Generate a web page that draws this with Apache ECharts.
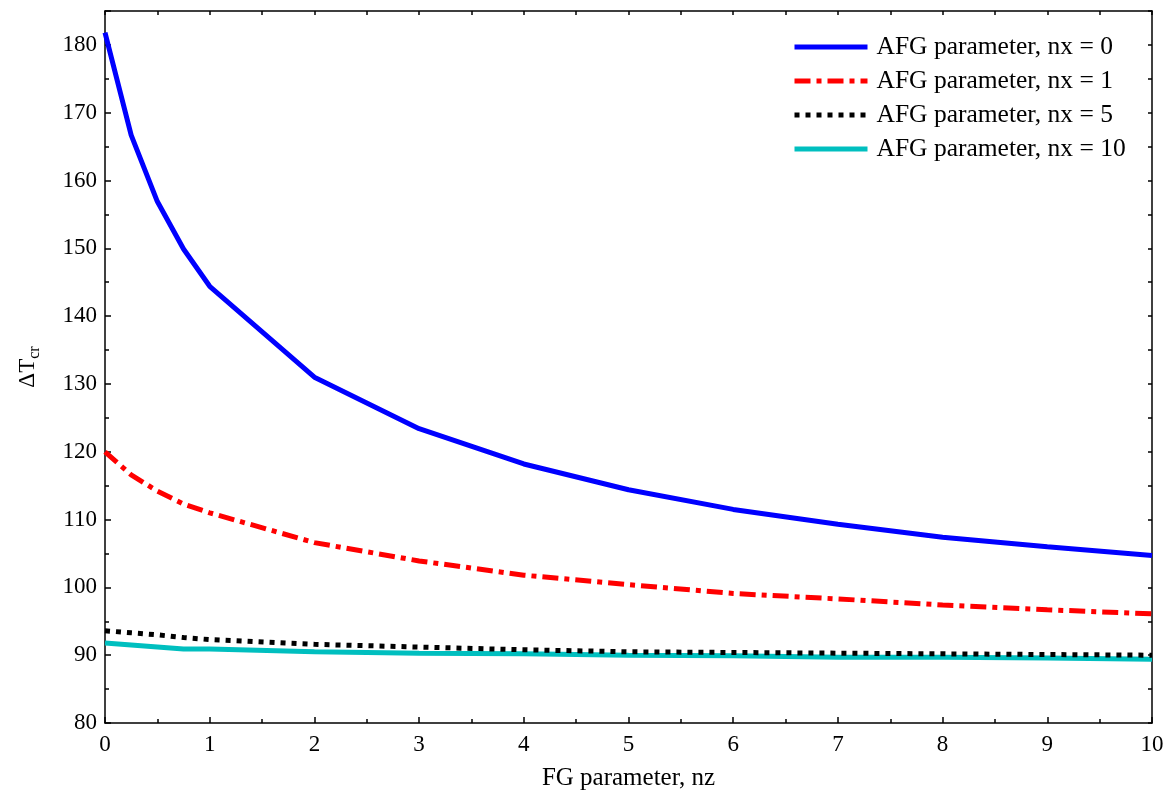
<!DOCTYPE html>
<html>
<head>
<meta charset="utf-8">
<script src="https://cdn.jsdelivr.net/npm/echarts@6/dist/echarts.min.js"></script>
<style>
  html, body { margin: 0; padding: 0; background: #fff; }
  #chart { width: 1172px; height: 796px; }
</style>
</head>
<body>
<div id="chart"></div>
<script>
// FG parameter nz sample points
const nz = [0, 0.25, 0.5, 0.75, 1, 2, 3, 4, 5, 6, 7, 8, 9, 10];

// Critical temperature difference for each AFG parameter nx
const dT_nx0  = [181.8, 166.7, 156.9, 149.9, 144.4, 131.0, 123.4, 118.2, 114.4, 111.5, 109.3, 107.4, 106.0, 104.7];
const dT_nx1  = [120.0, 116.6, 114.2, 112.3, 111.0, 106.6, 103.9, 101.8, 100.4, 99.1, 98.3, 97.4, 96.7, 96.1];
const dT_nx5  = [93.6, 93.3, 93.0, 92.6, 92.3, 91.6, 91.2, 90.8, 90.5, 90.4, 90.3, 90.2, 90.1, 90.0];
const dT_nx10 = [91.8, 91.5, 91.2, 90.9, 90.9, 90.5, 90.3, 90.2, 90.0, 89.9, 89.7, 89.7, 89.6, 89.4];

const seriesNames = [
  'AFG parameter, nx = 0',
  'AFG parameter, nx = 1',
  'AFG parameter, nx = 5',
  'AFG parameter, nx = 10'
];

const xTicks = { min: 0, max: 10, interval: 1 };
const yTicks = { min: 80, max: 185, interval: 10 };

const FONT = '"Liberation Serif", "DejaVu Serif", serif';

function pairs(ys) { return nz.map((x, i) => [x, ys[i]]); }

const chart = echarts.init(document.getElementById('chart'), null, { renderer: 'canvas' });

const lineStyles = [
  { color: '#0000ff', width: 5, type: 'solid' },
  { color: '#ff0000', width: 5, type: [16, 6, 5, 6] },
  { color: '#000000', width: 5, type: [5, 6] },
  { color: '#00bfbf', width: 5, type: 'solid' }
];
const values = [dT_nx0, dT_nx1, dT_nx5, dT_nx10];

chart.setOption({
  animation: false,
  backgroundColor: '#ffffff',
  grid: { left: 105, top: 11, right: 20, bottom: 72, containLabel: false },
  legend: {
    orient: 'vertical',
    left: 787,
    top: 29,
    itemWidth: 73,
    itemHeight: 10,
    itemGap: 8,
    lineStyle: { width: 5 },
    itemStyle: { opacity: 0 },
    textStyle: { fontFamily: FONT, fontSize: 25.5, color: '#000', padding: [0, 0, 0, 4] },
    data: seriesNames
  },
  xAxis: [
    {
      type: 'value',
      min: xTicks.min, max: xTicks.max, interval: xTicks.interval,
      name: 'FG parameter, nz',
      nameLocation: 'middle',
      nameGap: 43,
      nameTextStyle: { fontFamily: FONT, fontSize: 25, color: '#000' },
      axisLine: { show: true, onZero: false, lineStyle: { color: '#000', width: 1.5 } },
      axisTick: { show: true, inside: true, length: 6, lineStyle: { color: '#000', width: 1.5 } },
      minorTick: { show: true, splitNumber: 2, length: 4, lineStyle: { color: '#000', width: 1.5 } },
      axisLabel: { fontFamily: FONT, fontSize: 23, color: '#000', margin: 10 },
      splitLine: { show: false }
    },
    {
      type: 'value', position: 'top',
      min: xTicks.min, max: xTicks.max, interval: 0.5,
      axisLine: { show: true, onZero: false, lineStyle: { color: '#000', width: 1.5 } },
      axisTick: { show: true, inside: true, length: 4, lineStyle: { color: '#000', width: 1.5 } },
      axisLabel: { show: false },
      splitLine: { show: false }
    }
  ],
  yAxis: [
    {
      type: 'value',
      min: yTicks.min, max: yTicks.max, interval: yTicks.interval,
      name: '{a|ΔT}{b|cr}',
      nameLocation: 'middle',
      nameGap: 62,
      nameTextStyle: {
        color: '#000',
        rich: {
          a: { fontFamily: FONT, fontSize: 23, lineHeight: 27, verticalAlign: 'top', color: '#000' },
          b: { fontFamily: FONT, fontSize: 16, lineHeight: 16, verticalAlign: 'bottom', color: '#000' }
        }
      },
      axisLine: { show: true, onZero: false, lineStyle: { color: '#000', width: 1.5 } },
      axisTick: { show: true, inside: true, length: 6, lineStyle: { color: '#000', width: 1.5 } },
      minorTick: { show: true, splitNumber: 2, length: 4, lineStyle: { color: '#000', width: 1.5 } },
      axisLabel: { fontFamily: FONT, fontSize: 23, color: '#000', margin: 8, showMaxLabel: false },
      splitLine: { show: false }
    },
    {
      type: 'value', position: 'right',
      min: yTicks.min, max: yTicks.max, interval: 5,
      axisLine: { show: true, onZero: false, lineStyle: { color: '#000', width: 1.5 } },
      axisTick: { show: true, inside: true, length: 4, lineStyle: { color: '#000', width: 1.5 } },
      axisLabel: { show: false },
      splitLine: { show: false }
    }
  ],
  series: seriesNames.map((name, i) => ({
    name,
    type: 'line',
    xAxisIndex: 0,
    yAxisIndex: 0,
    data: pairs(values[i]),
    showSymbol: false,
    symbol: 'none',
    smooth: false,
    clip: true,
    lineStyle: lineStyles[i],
    itemStyle: { color: lineStyles[i].color },
    z: 10 - i
  }))
});
</script>
</body>
</html>
